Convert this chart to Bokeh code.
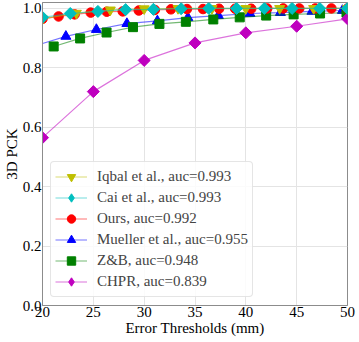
from bokeh.plotting import figure
from bokeh.models import Legend, LegendItem, Range1d
from bokeh.embed import file_html
from bokeh.resources import INLINE
import math

# ---- data ----
iqbal_x = [20, 23.33, 26.67, 30, 33.33, 36.67, 40, 43.33, 46.67, 50]
iqbal_y = [0.965, 0.984, 0.995, 0.999, 1.0, 1.0, 1.0, 1.0, 1.0, 1.0]

cai_x = [20, 22.73, 25.45, 28.18, 30.91, 33.64, 36.36, 39.09, 41.82, 44.55, 47.27, 50]
cai_y = [0.970, 0.983, 0.990, 0.996, 0.997, 0.999, 1.0, 1.0, 1.0, 1.0, 1.0, 1.0]

ours_x = [20, 21.58, 23.16, 24.74, 26.32, 27.89, 29.47, 31.05, 32.63, 34.21,
          35.79, 37.37, 38.95, 40.53, 42.11, 43.68, 45.26, 46.84, 48.42, 50]
ours_y = [0.965, 0.973, 0.980, 0.986, 0.989, 0.990, 0.993, 0.995, 0.997, 0.998,
          0.998, 0.999, 0.999, 0.999, 1.0, 1.0, 1.0, 1.0, 1.0, 1.0]

mueller_x = [20, 22.3, 25.3, 28.3, 31.3, 34.3, 37.3, 40.4, 43.4, 46.5, 49.5, 50]
mueller_y = [0.882, 0.906, 0.929, 0.949, 0.958, 0.969, 0.976, 0.983, 0.986, 0.990, 0.993, 0.994]

zb_x = [21.1, 23.7, 26.3, 28.9, 31.5, 34.1, 36.8, 39.4, 42.0, 44.7, 47.3, 49.9]
zb_y = [0.872, 0.899, 0.919, 0.937, 0.948, 0.955, 0.963, 0.970, 0.976, 0.980, 0.983, 0.986]

chpr_x = [20, 25, 30, 35, 40, 45, 50]
chpr_y = [0.565, 0.720, 0.825, 0.884, 0.918, 0.940, 0.965]

x_ticks = [20, 25, 30, 35, 40, 45, 50]
y_ticks = [0.0, 0.2, 0.4, 0.6, 0.8, 1.0]
y_tick_labels = ["0.0", "0.2", "0.4", "0.6", "0.8", "1.0"]

labels = ["Iqbal et al., auc=0.993", "Cai et al., auc=0.993", "Ours, auc=0.992",
          "Mueller et al., auc=0.955", "Z&B, auc=0.948", "CHPR, auc=0.839"]

FONT = "'Liberation Serif', serif"

p = figure(width=359, height=342, output_backend="svg", toolbar_location=None,
           x_range=Range1d(20, 50), y_range=Range1d(0, 1.02),
           min_border_left=0, min_border_right=12, min_border_top=2, min_border_bottom=37)

p.background_fill_color = "white"
p.outline_line_color = "#8c8c8c"
p.outline_line_width = 1
p.grid.grid_line_color = "#e4e4e4"
p.grid.grid_line_width = 1

p.xaxis.ticker = x_ticks
p.yaxis.ticker = y_ticks
p.yaxis.major_label_overrides = {t: l for t, l in zip(y_ticks, y_tick_labels)}
for ax in (p.xaxis[0], p.yaxis[0]):
    ax.axis_line_color = "#8c8c8c"
    ax.major_tick_line_color = None
    ax.minor_tick_line_color = None
    ax.major_tick_out = 0
    ax.major_tick_in = 0
    ax.major_label_text_font = FONT
    ax.major_label_text_font_size = "15px"
    ax.major_label_text_color = "black"
    ax.axis_label_text_font = FONT
    ax.axis_label_text_font_size = "15px"
    ax.axis_label_text_font_style = "normal"
    ax.axis_label_text_color = "black"
    ax.major_label_standoff = 1
    ax.axis_label_standoff = 0
p.xaxis.axis_label = "Error Thresholds (mm)"
p.yaxis.axis_label = "3D PCK"

LA = 0.55
LW = 1.2

def series(x, y, mx, my, color, marker, size, angle=0.0):
    ln = p.line(x, y, line_color=color, line_alpha=LA, line_width=LW)
    sc = p.scatter(mx, my, marker=marker, size=size, angle=angle,
                   fill_color=color, line_color=color)
    return ln, sc

def diamond_series(x, y, color):
    # matplotlib-style square diamond: rotated square on the plot; a narrower
    # bokeh "diamond" (fully hidden under it) supplies the legend glyph
    ln = p.line(x, y, line_color=color, line_alpha=LA, line_width=LW)
    lg = p.scatter(x, y, marker="diamond", size=10, fill_color=color, line_color=color)
    p.scatter(x, y, marker="square", size=8.5, angle=math.pi / 4,
              fill_color=color, line_color=color)
    return ln, lg

ln_mueller, sc_mueller = series(mueller_x, mueller_y, mueller_x[1:-1], mueller_y[1:-1], "#0000ff", "triangle", 10)
ln_zb, sc_zb = series(zb_x, zb_y, zb_x, zb_y, "#008000", "square", 9)
ln_chpr, sc_chpr = diamond_series(chpr_x, chpr_y, "#bf00bf")
ln_ours, sc_ours = series(ours_x, ours_y, ours_x, ours_y, "#ff0000", "circle", 9.5)
ln_iqbal, sc_iqbal = series(iqbal_x, iqbal_y, iqbal_x, iqbal_y, "#bfbf00", "inverted_triangle", 10)
ln_cai, sc_cai = diamond_series(cai_x, cai_y, "#00bfbf")

items = [LegendItem(label=labels[0], renderers=[ln_iqbal, sc_iqbal]),
         LegendItem(label=labels[1], renderers=[ln_cai, sc_cai]),
         LegendItem(label=labels[2], renderers=[ln_ours, sc_ours]),
         LegendItem(label=labels[3], renderers=[ln_mueller, sc_mueller]),
         LegendItem(label=labels[4], renderers=[ln_zb, sc_zb]),
         LegendItem(label=labels[5], renderers=[ln_chpr, sc_chpr])]
legend = Legend(items=items, location="bottom_left")
legend.label_text_font = FONT
legend.label_text_font_size = "15px"
legend.label_height = 21
legend.glyph_height = 21
legend.glyph_width = 32
legend.spacing = 0
legend.padding = 4
legend.margin = 8
legend.label_standoff = 10
legend.border_line_color = "#cccccc"
legend.border_line_width = 1
legend.background_fill_color = "white"
legend.background_fill_alpha = 0.85
legend.border_radius = 4
p.add_layout(legend)

open("out.html", "w").write(file_html(p, INLINE))
